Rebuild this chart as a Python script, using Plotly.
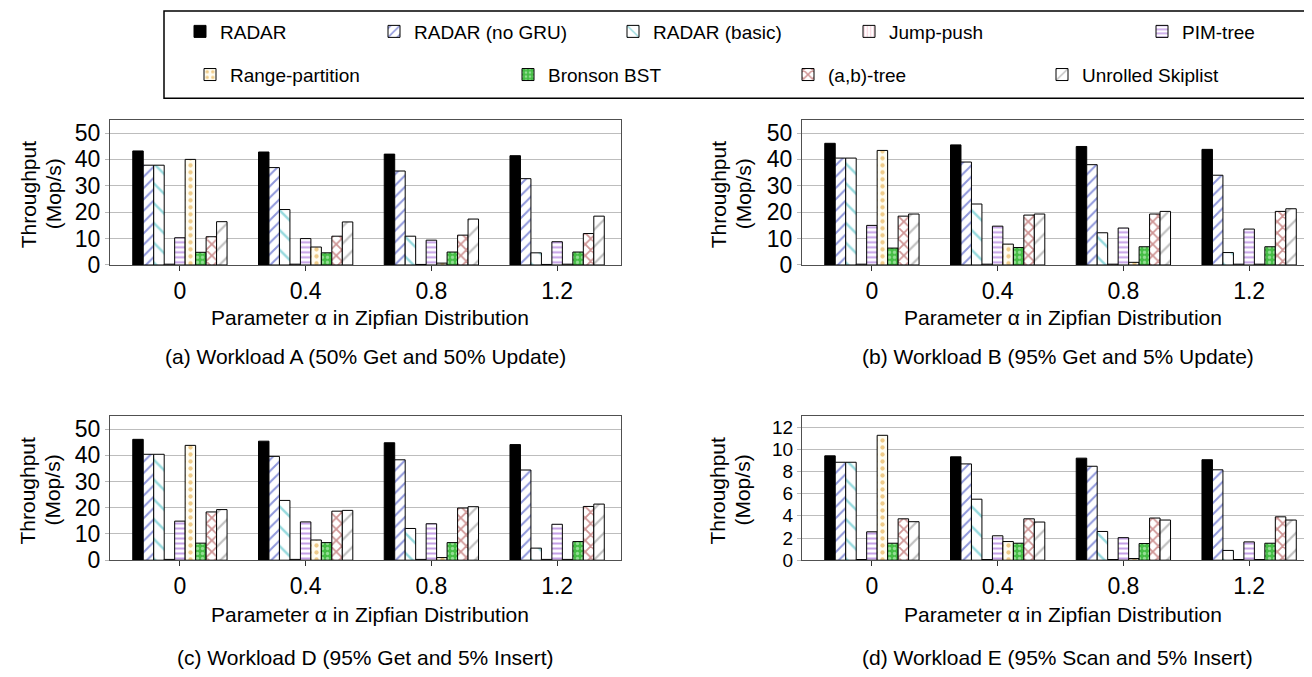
import plotly.graph_objects as go

categories = ["0", "0.4", "0.8", "1.2"]
series_names = ["RADAR", "RADAR (no GRU)", "RADAR (basic)", "Jump-push", "PIM-tree",
                "Range-partition", "Bronson BST", "(a,b)-tree", "Unrolled Skiplist"]

# Workload A (50% Get / 50% Update)
workload_a = [
    [43.2, 42.8, 42.0, 41.4],
    [37.8, 36.9, 35.6, 32.7],
    [37.8, 21.0, 10.9, 4.6],
    [0.3, 0.3, 0.2, 0.2],
    [10.3, 10.0, 9.4, 8.8],
    [40.0, 6.8, 0.7, 0.3],
    [4.8, 4.6, 4.9, 4.9],
    [10.7, 10.9, 11.3, 11.9],
    [16.4, 16.3, 17.4, 18.5],
]
# Workload B (95% Get / 5% Update)
workload_b = [
    [46.1, 45.5, 44.9, 43.8],
    [40.5, 39.0, 38.0, 34.0],
    [40.5, 23.1, 12.2, 4.7],
    [0.3, 0.3, 0.3, 0.3],
    [15.0, 14.7, 14.0, 13.6],
    [43.4, 7.9, 1.0, 0.3],
    [6.4, 6.6, 6.9, 6.9],
    [18.5, 18.9, 19.3, 20.3],
    [19.3, 19.3, 20.3, 21.3],
]
# Workload D (95% Get / 5% Insert)
workload_d = [
    [46.1, 45.4, 44.8, 44.1],
    [40.4, 39.6, 38.3, 34.4],
    [40.4, 22.8, 12.1, 4.6],
    [0.3, 0.3, 0.3, 0.3],
    [14.9, 14.6, 13.9, 13.7],
    [43.8, 7.7, 1.0, 0.3],
    [6.5, 6.7, 6.7, 7.1],
    [18.4, 18.7, 19.9, 20.5],
    [19.3, 19.0, 20.4, 21.4],
]
# Workload E (95% Scan / 5% Insert)
workload_e = [
    [9.41, 9.32, 9.20, 9.06],
    [8.83, 8.68, 8.47, 8.15],
    [8.83, 5.50, 2.59, 0.88],
    [0.06, 0.06, 0.06, 0.06],
    [2.56, 2.20, 2.03, 1.65],
    [11.26, 1.68, 0.15, 0.06],
    [1.53, 1.53, 1.50, 1.53],
    [3.73, 3.73, 3.80, 3.91],
    [3.47, 3.44, 3.62, 3.62],
]

captions = ["(a) Workload A (50% Get and 50% Update)",
            "(b) Workload B (95% Get and 5% Update)",
            "(c) Workload D (95% Get and 5% Insert)",
            "(d) Workload E (95% Scan and 5% Insert)"]

FONT = "Liberation Sans, Arial, sans-serif"
FS = 21
TFS = 23
W, H = 1312, 677

styles = [
    dict(color="black", pattern=dict(shape="")),
    dict(color="white", pattern=dict(shape="/", fgcolor="#1f2fb8", bgcolor="white", size=8, solidity=0.25, fillmode="overlay")),
    dict(color="white", pattern=dict(shape="\\", fgcolor="#2fb5bd", bgcolor="white", size=14, solidity=0.18, fillmode="overlay")),
    dict(color="white", pattern=dict(shape="|", fgcolor="#f0a8bc", bgcolor="white", size=4, solidity=0.4, fillmode="overlay")),
    dict(color="white", pattern=dict(shape="-", fgcolor="#8a3fd0", bgcolor="white", size=5, solidity=0.4, fillmode="overlay")),
    dict(color="#fffdf2", pattern=dict(shape=".", fgcolor="#e09a20", bgcolor="#fffdf2", size=7, solidity=0.3, fillmode="overlay")),
    dict(color="#45bd45", pattern=dict(shape=".", fgcolor="#e6ffe6", bgcolor="#45bd45", size=5, solidity=0.35, fillmode="overlay")),
    dict(color="white", pattern=dict(shape="x", fgcolor="#a02c2c", bgcolor="white", size=8, solidity=0.4, fillmode="overlay")),
    dict(color="white", pattern=dict(shape="/", fgcolor="#7f7f7f", bgcolor="white", size=12, solidity=0.18, fillmode="overlay")),
]

fig = go.Figure()

panels = [workload_a, workload_b, workload_d, workload_e]
xdoms = [[102 / W, 613 / W], [794 / W, 1305 / W], [102 / W, 613 / W], [794 / W, 1305 / W]]
ydoms = [[1 - 262 / H, 1 - 114 / H], [1 - 262 / H, 1 - 114 / H],
         [1 - 563 / H, 1 - 416 / H], [1 - 563 / H, 1 - 416 / H]]
yranges = [[0, 55], [0, 55], [0, 55], [0, 13]]
ydticks = [10, 10, 10, 2]
ytickfs = [TFS, TFS, TFS, 19]

for p, data in enumerate(panels):
    xa = "x" if p == 0 else f"x{p + 1}"
    ya = "y" if p == 0 else f"y{p + 1}"
    for s, vals in enumerate(data):
        st = styles[s]
        fig.add_trace(go.Bar(
            x=categories, y=vals, name=series_names[s],
            xaxis=xa, yaxis=ya,
            marker=dict(color=st["color"], pattern=st["pattern"],
                        line=dict(color="black", width=1)),
            legend="legend" if s == 0 else f"legend{s + 1}",
            showlegend=(p == 0), hoverinfo="x+y+name",
        ))
    suffix = "" if p == 0 else str(p + 1)
    fig.layout["xaxis" + suffix] = dict(
        domain=xdoms[p], anchor=ya, type="category", range=[-0.556, 3.508],
        showline=True, mirror=True, linecolor="#505050", linewidth=1,
        ticks="outside", ticklen=5, tickcolor="#303030",
        tickfont=dict(family=FONT, size=TFS, color="black"),
        showgrid=False, zeroline=False, fixedrange=True)
    fig.layout["yaxis" + suffix] = dict(
        domain=ydoms[p], anchor=xa, range=yranges[p], dtick=ydticks[p],
        showline=True, mirror=True, linecolor="#505050", linewidth=1,
        ticks="outside", ticklen=4, tickcolor="#b8b8b8",
        showgrid=True, gridcolor="#bdbdbd", gridwidth=1, zeroline=False,
        tickfont=dict(family=FONT, size=ytickfs[p], color="black"), fixedrange=True)

    x0, x1 = xdoms[p]
    xc = (x0 + x1) / 2
    off = 0 if p < 2 else 302
    fig.add_annotation(x=xc + 5 / W, y=1 - (316 + off) / H, xref="paper", yref="paper",
                       text="Parameter α in Zipfian Distribution", showarrow=False,
                       font=dict(family=FONT, size=FS, color="black"), xanchor="center", yanchor="middle")
    fig.add_annotation(x=xc, y=1 - (355 + off + (5 if p >= 2 else 0)) / H, xref="paper", yref="paper",
                       text=captions[p], showarrow=False,
                       font=dict(family=FONT, size=FS, color="black"), xanchor="center", yanchor="middle")
    left_px = 0 if p % 2 == 0 else 690
    yc_px = 190 if p < 2 else 492
    fig.add_annotation(x=(left_px + 20) / W, y=1 - yc_px / H, xref="paper", yref="paper",
                       text="Throughput", textangle=-90, showarrow=False,
                       font=dict(family=FONT, size=FS, color="black"), xanchor="center", yanchor="middle")
    fig.add_annotation(x=(left_px + 45) / W, y=1 - yc_px / H, xref="paper", yref="paper",
                       text="(Mop/s)", textangle=-90, showarrow=False,
                       font=dict(family=FONT, size=FS, color="black"), xanchor="center", yanchor="middle")

# legends: one per series, positioned like the reference
legend_text_x = [218, 412, 651, 887, 1180, 228, 546, 826, 1080]
legend_row_y = [24, 24, 24, 24, 24, 68, 68, 68, 68]
for s in range(9):
    key = "legend" if s == 0 else f"legend{s + 1}"
    fig.layout[key] = dict(
        x=(legend_text_x[s] - 46) / W, y=1 - legend_row_y[s] / H,
        xanchor="left", yanchor="middle", orientation="h",
        bgcolor="rgba(0,0,0,0)", borderwidth=0,
        font=dict(family=FONT, size=19, color="black"))

fig.add_shape(type="rect", xref="paper", yref="paper",
              x0=156 / W, x1=1309 / W, y0=1 - 92 / H, y1=1 - 3 / H,
              line=dict(color="black", width=1.5))

fig.update_layout(
    width=W, height=H, margin=dict(l=0, r=0, t=0, b=0),
    paper_bgcolor="white", plot_bgcolor="white",
    barmode="group", bargap=0.25, bargroupgap=0.0,
    font=dict(family=FONT, size=FS, color="black"),
)

fig.write_html("out.html")
